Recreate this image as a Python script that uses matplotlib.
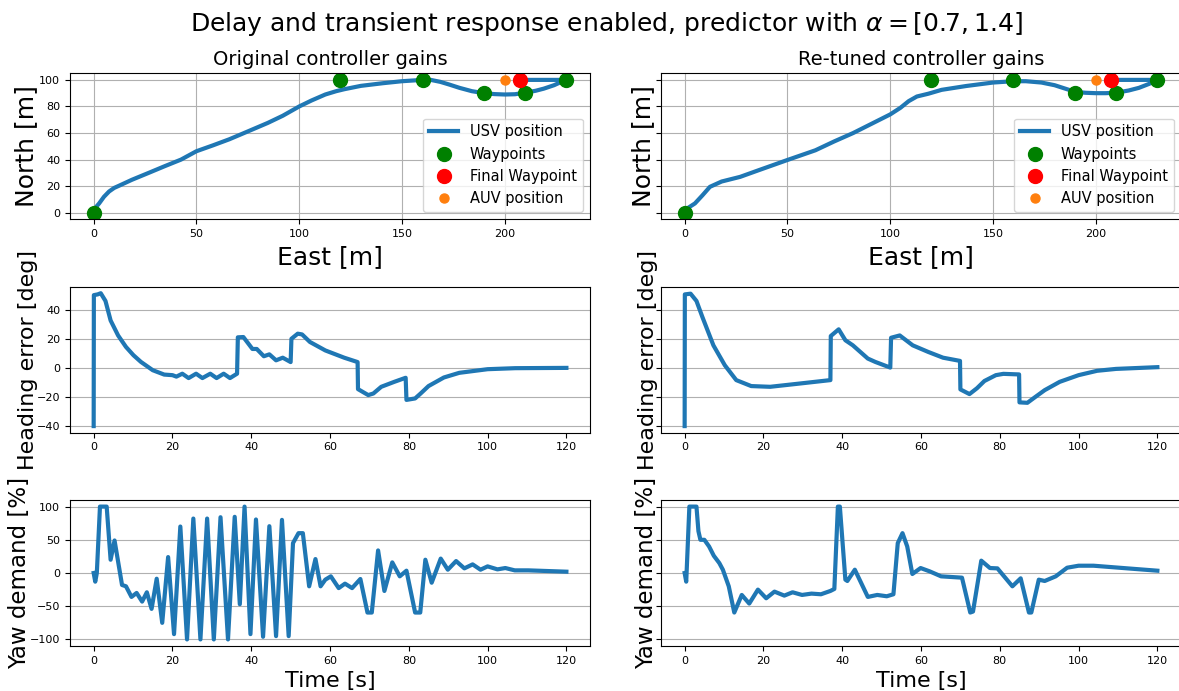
import matplotlib
matplotlib.use("Agg")
import matplotlib.pyplot as plt
import numpy as np

# waypoints shared by both runs
wp_east = [0, 120, 160, 190, 210, 230]
wp_north = [0, 100, 100, 90, 90, 100]
final_wp = (207.5, 100)
auv_pos = (200, 100)

# USV track, original gains
east_orig = [0, 1, 2.7, 5, 7.5, 10, 12.3, 18.6, 26.6, 34.5, 42.5, 50, 58, 66, 75, 84.7, 92,
             100, 106, 112.7, 118, 122, 130, 140.7, 150, 160, 164, 168.7, 173, 178, 184,
             190, 195, 200, 205, 210, 215, 219, 224, 228, 230, 225, 218, 212, 208]
north_orig = [0, 4, 7.1, 12, 16, 18.7, 20.3, 24.8, 29.9, 35, 40, 46.3, 50.7, 55.3, 61.2, 67.6, 73,
              80, 84.5, 89, 91.5, 93, 95.5, 97.5, 99, 100, 100, 98.5, 96.5, 94, 91.5,
              90, 89.3, 89, 89.2, 90.4, 91.8, 93.4, 96, 98.8, 100, 100, 100, 100, 100]

# USV track, re-tuned gains
east_tuned = [0, 1.5, 3, 5, 8.6, 12.3, 18, 27, 36, 50, 63.6, 72.8, 82, 91, 100, 105, 109,
              113, 118.6, 125, 137, 150, 160, 166, 173.6, 180, 186, 190, 195, 200, 205,
              210, 216, 221, 226, 230, 225, 218, 212, 208]
north_tuned = [0, 3.5, 5, 7, 13, 19.5, 23.5, 27, 32, 39.7, 47, 53.7, 60, 67, 74, 79, 84,
               87.5, 89.6, 92.5, 95.4, 98, 99, 99, 98, 96, 93, 91, 90.3, 90, 90,
               90.4, 92, 94, 97, 100, 100, 100, 100, 100]

# heading error [deg]
t_he_orig = [0, 0.05, 1, 1.8, 3, 4.3, 6.2, 8.2, 10.1, 12, 15, 17.9, 20, 21, 22.5, 24.1, 26,
             27.6, 29.6, 31.2, 33, 34.6, 36.4, 36.6, 38, 40.3, 41.4, 43.2, 44.6, 46.3, 48,
             50, 50.2, 51.8, 52.9, 54.9, 58.8, 63.6, 67, 67.1, 69.7, 71, 73, 76.3, 79.2,
             79.4, 81.6, 83, 85, 88.9, 92.8, 100, 107, 120]
he_orig = [-40, 50, 50.5, 51.3, 46, 32.6, 22.3, 14.4, 8.7, 4.1, -1.6, -4.6, -5, -6, -4, -7, -4,
           -7, -4, -7, -4, -7, -4, 21, 21.2, 13, 13, 8, 9.3, 5.2, 7,
           4, 20, 23.5, 23, 17.8, 12, 7, 4, -14.6, -18.7, -17.6, -13, -9.6, -6.8,
           -22, -21, -17.6, -12.5, -6.6, -3.4, -0.9, -0.2, 0]

t_he_tuned = [0, 0.05, 1.5, 3, 4.5, 7.3, 10.2, 13.1, 16.9, 21.7, 28.4, 37, 37.1, 39.1, 40.8,
              42.7, 46.5, 48.4, 52.2, 52.4, 54.6, 57.9, 61.8, 65.6, 69.9, 70, 72.3, 74.2,
              76.1, 79, 80.9, 84.9, 85, 87, 88.5, 91.4, 95.2, 100, 104.7, 109.5, 120]
he_tuned = [-40, 50.5, 51, 46, 35, 15.5, 1.8, -8.4, -12.5, -13, -11, -8.4, 21.9, 26.5, 19,
            15.5, 6.4, 4.1, 0.2, 20.7, 22.3, 15.5, 11, 7, 4.8, -14.8, -18, -14,
            -9, -5, -4.1, -4.5, -23.7, -24, -21, -15.3, -9.6, -5, -2, -0.7, 0.5]

# yaw demand [%]
t_yaw_orig = [0, 0.4, 0.8, 1.6, 3.3, 4.3, 5.3, 7.2, 8.2, 9.6, 10.9, 12.3, 13.5, 14.7, 16,
              17.4, 18.9, 20.4, 22, 23.7, 25.3, 27.1, 28.8, 30.5, 32.2, 34.1, 35.8, 37.1,
              38.3, 39.8, 41.2, 43, 44.6, 46.3, 47.8, 49.5, 50.6, 52, 53.1, 54.7, 56.3,
              57.6, 58.8, 60.2, 62.2, 63.8, 65.6, 67.7, 69.5, 70.6, 72.2, 73.8, 75.8, 77.7,
              79.4, 81.6, 82.9, 84.2, 85.8, 88.1, 89.9, 92, 94.1, 96.2, 98.2, 100, 102.5,
              104.5, 106.9, 110.3, 120]
yaw_orig = [0, -13, 0, 100, 100, 20, 49, -18, -20, -36, -30, -43, -29, -54, -8.6,
            -75, 24, -92, 70, -100, 82, -100, 82, -100, 84, -100, 84.6, -47,
            100, -92, 80.6, -96, 70.5, -95, 80, -95, 45, 60, 60, -20, 21,
            -20, -10, -5, -22.7, -16, -22.7, -9, -59.5, -59.5, 34, -27, 16, -5,
            3.5, -59.5, -59.5, 20, -14.6, 21.7, 5, 18, 7, 13, 5, 10, 5.5,
            7.5, 4, 4, 2]

t_yaw_tuned = [0, 0.4, 1.2, 3, 3.5, 4, 5, 6.2, 7.4, 8.8, 9.7, 11.2, 12.6, 14.5, 16.4, 18.6,
               20.7, 22.8, 25.3, 27.4, 29.8, 32.2, 34.6, 37, 38, 38.9, 39.4, 40.8, 41.3,
               43.2, 46.5, 48.9, 51.3, 53, 54.1, 55.3, 56.5, 57.8, 59.9, 62.2, 65.1, 70.4,
               72.5, 73.2, 75.3, 77.5, 79.4, 83.2, 85.3, 87.4, 88, 89.9, 91.4, 94.2, 97.1,
               100, 103.8, 112.4, 120]
yaw_tuned = [0, -13, 100, 100, 63, 50, 50, 40, 26, 15, 5, -20, -59.5, -33, -46, -25,
             -38, -28, -34, -29, -33, -31, -32, -27, -24, 100, 100, -10, -12,
             5, -36, -33, -35, -32, 45, 60, 40, -1.5, 7.5, 2.5, -5, -7,
             -59.5, -58, 18.6, 7.5, 7, -20, -8, -59.5, -59.5, -10, -12, -5, 8,
             11, 11, 7, 3.5]

blue = "#1f77b4"

fig, axes = plt.subplots(3, 2, figsize=(11.79, 6.91), dpi=100, sharey="row")
fig.subplots_adjust(left=0.0594, right=1.0017, bottom=0.065, top=0.894,
                    wspace=0.1365, hspace=0.46)
fig.suptitle(r"Delay and transient response enabled, predictor with $\alpha = [0.7, 1.4]$",
             fontsize=18, x=0.514, y=0.985)

runs = [
    ("Original controller gains", east_orig, north_orig, t_he_orig, he_orig, t_yaw_orig, yaw_orig),
    ("Re-tuned controller gains", east_tuned, north_tuned, t_he_tuned, he_tuned, t_yaw_tuned, yaw_tuned),
]

for col, (title, east, north, t_he, he, t_yaw, yaw) in enumerate(runs):
    ax = axes[0, col]
    ax.plot(east, north, color=blue, lw=3, label="USV position")
    ax.plot(wp_east, wp_north, "o", color="green", ms=10, ls="none", label="Waypoints")
    ax.plot(*final_wp, "o", color="red", ms=10, ls="none", label="Final Waypoint")
    ax.plot(*auv_pos, "o", color="#ff7f0e", ms=6.5, ls="none", label="AUV position")
    ax.set_title(title, fontsize=14)
    ax.set_xlabel("East [m]", fontsize=18)
    ax.set_ylabel("North [m]", fontsize=18, labelpad=1)
    ax.grid(True)
    ax.legend(loc="lower right", fontsize=10.5)

    ax = axes[1, col]
    ax.plot(t_he, he, color=blue, lw=3)
    ax.set_ylabel("Heading error [deg]", fontsize=16, labelpad=-1)
    ax.grid(True, axis="y")

    ax = axes[2, col]
    ax.plot(t_yaw, yaw, color=blue, lw=3)
    ax.set_ylabel("Yaw demand [%]", fontsize=16.5, labelpad=-1)
    ax.set_xlabel("Time [s]", fontsize=16)
    ax.grid(True, axis="y")

for ax in axes.flat:
    ax.tick_params(labelsize=8)
for ax in axes[:, 1]:
    ax.tick_params(labelleft=False)

fig.savefig("out.png", dpi=100)
